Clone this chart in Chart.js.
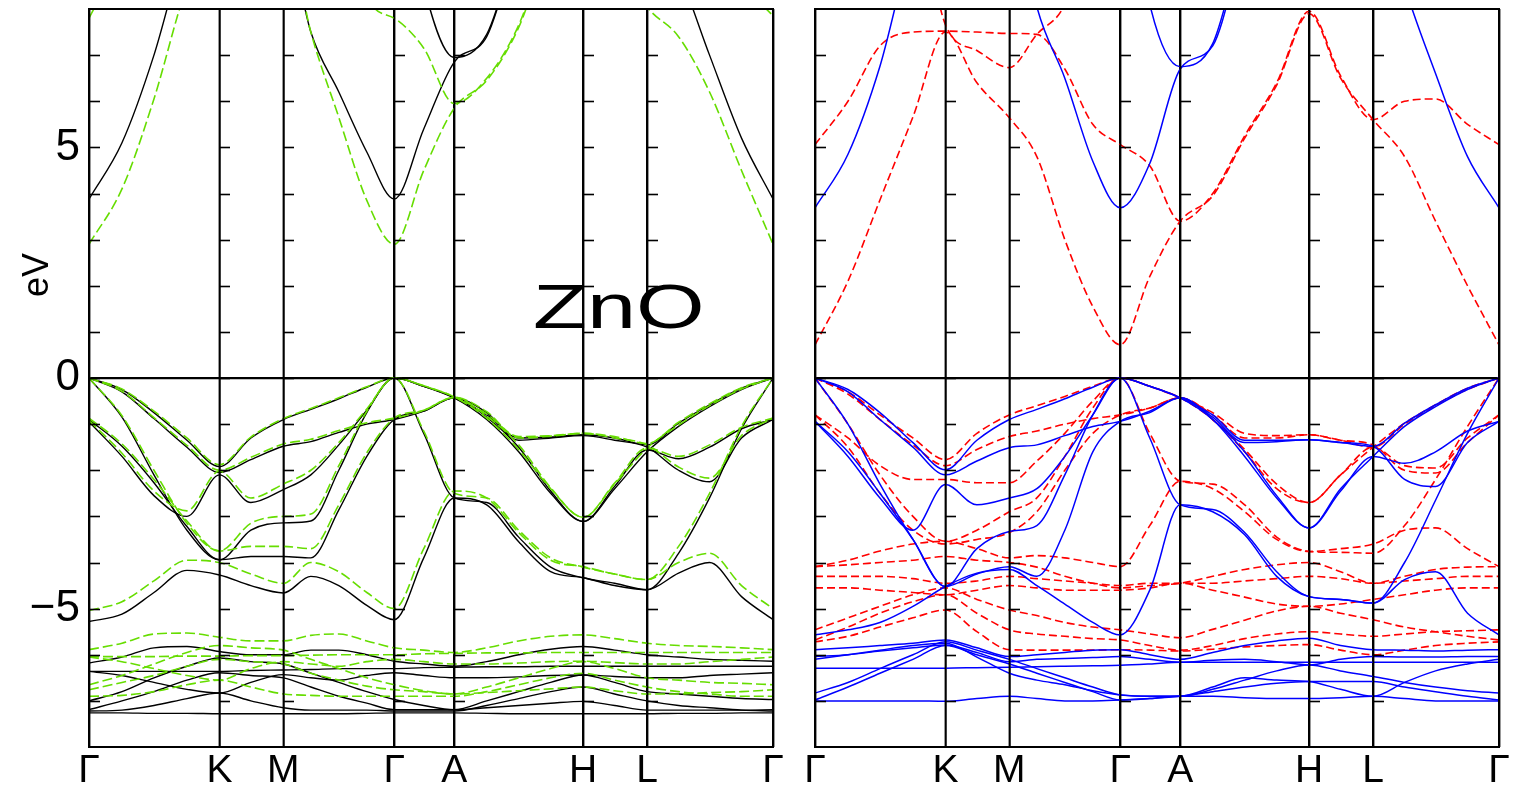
<!DOCTYPE html>
<html><head><meta charset="utf-8">
<script src="https://cdn.jsdelivr.net/npm/chart.js@4.4.0/dist/chart.umd.min.js"></script>
<style>
html,body{margin:0;padding:0;background:#fff;width:1520px;height:789px;overflow:hidden}
canvas{position:absolute;top:0}
#c1{left:0}
#c2{left:795px}
</style></head><body>
<canvas id="c1" width="795" height="789"></canvas>
<canvas id="c2" width="725" height="789"></canvas>
<script>
// k-path sample positions (path length units) and high-symmetry points
const K_POS = [0,33,65,98,130.5,162,194.5,222,250,278,305.5,335,365.5,398,430,462,494.5,526,558.5,590,621,653,684.5];
const HS_POS = [0,130.5,194.5,305.5,365.5,494.5,558.5,684.5];
const HS_LABELS = ['Γ','K','M','Γ','A','H','L','Γ'];
const Y_LABELS = {5:'5',0:'0','-5':'−5'};

// ---------- left panel: black (solid) ----------
const BK_C1 = [3.88,5.1,7.0,9.5,11, 10.5,10, 7.5,6.2,4.9,3.88, 5.4,6.85, 7.4,9.5,11,12, 11,10, 8.8,7.0,5.2,3.88];
const BK_C2 = [12,12,12,12,12, 12,12, 12,12,12,12, 8.5,6.95, 7.45,9.5,11,12, 12,12, 12,12,12,12];
const BK_V1 = [0,-0.25,-0.75,-1.35,-1.92, -1.3,-0.9, -0.68,-0.45,-0.2,0, -0.18,-0.43, -0.8,-1.3,-1.28,-1.23, -1.3,-1.45, -0.98,-0.58,-0.22,0];
const BK_V2 = [0,-0.3,-0.88,-1.5,-2.05, -1.77,-1.48, -1.38,-1.18,-1.0,-0.9, -0.72,-0.43, -0.85,-1.5,-2.45,-3.11, -2.35,-1.56, -1.75,-1.5,-1.1,-0.9];
const BK_V3 = [0,-0.85,-2.1,-3.3,-3.94, -3.3,-3.14, -3.1,-2.0,-0.75,0, -1.2,-2.6, -2.7,-3.45,-4.1,-4.33, -4.45,-4.59, -3.8,-2.6,-1.1,0];
const BK_V4 = [-0.9,-1.48,-2.27,-3.22,-3.94, -3.87,-3.87, -3.9,-2.86,-1.7,-0.9, -0.72,-0.43, -0.75,-1.35,-1.3,-1.25, -1.35,-1.5, -2.0,-2.25,-1.3,-0.9];
const BK_V5 = [-0.95,-1.7,-2.55,-3.0,-2.1, -2.7,-2.42, -2.1,-1.45,-0.7,0, -0.18,-0.43, -0.9,-1.6,-2.5,-3.11, -2.4,-1.6, -1.05,-0.62,-0.25,0];
const BK_V6 = [-5.28,-5.12,-4.65,-4.17,-4.27, -4.5,-4.66, -4.3,-4.5,-4.93,-5.24, -3.9,-2.6, -2.75,-3.55,-4.2,-4.33, -4.5,-4.59, -4.23,-4.0,-4.74,-5.24];
const BK_D1 = [-6.18,-6.05,-5.85,-5.82,-5.93, -6.0,-6.0, -5.9,-5.9,-6.0,-6.14, -6.2,-6.25, -6.15,-6.0,-5.88,-5.82, -5.9,-6.0, -6.05,-6.1,-6.12,-6.14];
const BK_D2 = [-6.36,-6.36,-6.36,-6.36,-6.36, -6.34,-6.33, -6.32,-6.3,-6.3,-6.3, -6.28,-6.27, -6.26,-6.26,-6.25,-6.25, -6.25,-6.25, -6.25,-6.25,-6.25,-6.25];
const BK_D3 = [-6.36,-6.45,-6.6,-6.75,-6.83, -6.6,-6.43, -6.5,-6.55,-6.45,-6.39, -6.45,-6.5, -6.5,-6.48,-6.45,-6.44, -6.47,-6.5, -6.5,-6.45,-6.42,-6.39];
const BK_D4 = [-7.0,-6.8,-6.5,-6.25,-6.07, -6.15,-6.2, -6.4,-6.6,-6.8,-6.97, -7.1,-7.19, -7.0,-6.8,-6.6,-6.44, -6.6,-6.8, -6.85,-6.9,-6.95,-6.97];
const BK_D5 = [-7.19,-7.0,-6.8,-6.55,-6.39, -6.45,-6.5, -6.7,-6.9,-7.05,-7.19, -7.19,-7.19, -7.15,-7.1,-7.05,-7.01, -7.1,-7.2, -7.2,-7.2,-7.2,-7.19];
const BK_D6 = [-7.22,-7.2,-7.1,-6.95,-6.83, -7.0,-7.15, -7.2,-7.2,-7.2,-7.22, -7.22,-7.22, -7.1,-6.95,-6.8,-6.7, -6.85,-7.0, -7.1,-7.15,-7.2,-7.22];
const BK_D7 = [-7.26,-7.26,-7.27,-7.27,-7.28, -7.28,-7.28, -7.28,-7.28,-7.27,-7.26, -7.26,-7.26, -7.27,-7.28,-7.28,-7.28, -7.28,-7.28, -7.27,-7.27,-7.26,-7.26];

// ---------- left panel: green (dashed) ----------
const GR_C1 = [2.9,4.1,6.05,8.5,10, 10,10, 7.5,5.65,3.85,2.9, 4.5,5.85, 6.45,7.6,9.5,10.5, 9.3,8.05, 7.4,6.2,4.5,2.9];
const GR_C2 = [7.8,9.2,11,12,12, 12,12, 12,12,8.3,7.8, 7.15,5.95, 6.5,7.65,9.6,11, 12,12, 12,10,8.6,7.85];
const GR_V1 = [0,-0.24,-0.72,-1.3,-1.88, -1.28,-0.88, -0.66,-0.43,-0.19,0, -0.17,-0.41, -0.78,-1.27,-1.25,-1.2, -1.27,-1.42, -0.96,-0.56,-0.21,0];
const GR_V2 = [0,-0.29,-0.86,-1.46,-2.0, -1.72,-1.43, -1.33,-1.14,-0.97,-0.87, -0.7,-0.42, -0.83,-1.45,-2.38,-3.02, -2.28,-1.52, -1.7,-1.45,-1.07,-0.87];
const GR_V3 = [0,-0.82,-2.0,-3.15,-3.75, -3.15,-3.0, -2.95,-1.9,-0.72,0, -1.15,-2.5, -2.6,-3.3,-3.9,-4.1, -4.25,-4.37, -3.65,-2.5,-1.05,0];
const GR_V4 = [-0.87,-1.43,-2.2,-3.1,-3.75, -3.65,-3.65, -3.7,-2.75,-1.62,-0.87, -0.7,-0.42, -0.73,-1.3,-1.26,-1.2, -1.3,-1.45, -1.93,-2.17,-1.25,-0.87];
const GR_V5 = [-0.92,-1.63,-2.45,-2.88,-2.02, -2.6,-2.3, -2.0,-1.4,-0.67,0, -0.17,-0.41, -0.87,-1.55,-2.4,-3.02, -2.3,-1.52, -1.02,-0.6,-0.24,0];
const GR_V6 = [-5.04,-4.85,-4.4,-3.95,-4.0, -4.25,-4.45, -4.0,-4.2,-4.65,-5.0, -3.7,-2.45, -2.6,-3.35,-3.95,-4.09, -4.25,-4.37, -4.0,-3.8,-4.5,-5.0];
const GR_D1 = [-5.89,-5.75,-5.55,-5.53,-5.62, -5.7,-5.7, -5.58,-5.55,-5.7,-5.85, -5.9,-5.95, -5.85,-5.7,-5.6,-5.57, -5.65,-5.75, -5.8,-5.82,-5.85,-5.89];
const GR_D2 = [-6.04,-6.04,-6.04,-6.03,-6.03, -6.02,-6.02, -6.01,-6.0,-6.0,-6.0, -5.98,-5.97, -5.96,-5.96,-5.95,-5.95, -5.95,-5.95, -5.95,-5.95,-5.95,-5.95];
const GR_D3 = [-6.05,-6.15,-6.3,-6.45,-6.55, -6.3,-6.15, -6.2,-6.25,-6.15,-6.1, -6.15,-6.2, -6.2,-6.18,-6.15,-6.14, -6.17,-6.2, -6.2,-6.15,-6.1,-6.05];
const GR_D4 = [-6.65,-6.45,-6.2,-5.95,-5.8, -5.85,-5.9, -6.1,-6.3,-6.5,-6.65, -6.78,-6.85, -6.7,-6.5,-6.3,-6.15, -6.3,-6.5, -6.55,-6.6,-6.62,-6.65];
const GR_D5 = [-6.76,-6.6,-6.45,-6.25,-6.1, -6.15,-6.2, -6.4,-6.55,-6.68,-6.76, -6.8,-6.85, -6.82,-6.78,-6.74,-6.7, -6.78,-6.85, -6.85,-6.82,-6.8,-6.76];
const GR_D6 = [-6.9,-6.88,-6.8,-6.65,-6.55, -6.7,-6.85, -6.88,-6.9,-6.9,-6.9, -6.9,-6.9, -6.8,-6.65,-6.5,-6.4, -6.55,-6.7, -6.8,-6.85,-6.9,-6.9];

// ---------- right panel: blue (solid) ----------
const BL_C1 = [3.69,4.85,6.76,9.5,11, 11,11, 8.05,6.5,4.7,3.69, 4.65,6.7, 7.2,9.5,11,12, 12,11, 8.5,6.6,4.8,3.69];
const BL_C2 = [12,12,12,12,12, 12,12, 12,12,12,12, 8.1,6.75, 7.25,9.6,11,12, 12,12, 12,12,12,12];
const BL_V1 = [0,-0.25,-0.75,-1.4,-1.99, -1.35,-0.9, -0.68,-0.45,-0.2,0, -0.18,-0.43, -0.8,-1.35,-1.35,-1.34, -1.4,-1.48, -0.98,-0.58,-0.22,0];
const BL_V2 = [0,-0.3,-0.9,-1.5,-2.1, -1.8,-1.51, -1.45,-1.25,-1.05,-0.94, -0.72,-0.43, -0.9,-1.6,-2.55,-3.25, -2.45,-1.7, -1.85,-1.6,-1.15,-0.94];
const BL_V3 = [0,-1.0,-2.3,-3.5,-4.52, -3.7,-3.33, -3.2,-2.1,-0.8,0, -1.3,-2.75, -2.85,-3.35,-4.2,-4.74, -4.8,-4.88, -4.0,-2.65,-1.2,0];
const BL_V4 = [-0.94,-1.6,-2.5,-3.5,-4.52, -4.25,-4.09, -4.3,-3.3,-1.6,-0.94, -0.75,-0.43, -0.85,-1.4,-1.38,-1.34, -1.4,-1.48, -2.2,-2.35,-1.4,-0.94];
const BL_V5 = [-0.94,-1.7,-2.6,-3.3,-2.31, -2.75,-2.6, -2.4,-1.7,-0.8,0, -0.18,-0.43, -0.9,-1.7,-2.6,-3.25, -2.4,-1.7, -1.05,-0.62,-0.25,0];
const BL_V6 = [-5.57,-5.46,-5.3,-4.95,-4.52, -4.23,-4.15, -4.5,-4.9,-5.3,-5.57, -4.6,-2.75, -2.9,-3.4,-4.3,-4.74, -4.8,-4.88, -4.37,-4.2,-5.1,-5.57];
const BL_D1 = [-5.89,-5.85,-5.8,-5.75,-5.68, -5.85,-6.04, -6.0,-5.95,-5.9,-5.89, -6.0,-6.1, -5.95,-5.8,-5.7,-5.64, -5.8,-5.89, -5.9,-5.92,-5.9,-5.89];
const BL_D2 = [-6.04,-6.0,-5.92,-5.85,-5.79, -5.95,-6.15, -6.1,-6.08,-6.06,-6.04, -6.1,-6.16, -6.12,-6.1,-6.15,-6.22, -6.1,-6.04, -6.05,-6.05,-6.04,-6.04];
const BL_D3 = [-6.29,-6.29,-6.29,-6.29,-6.29, -6.28,-6.27, -6.26,-6.25,-6.24,-6.23, -6.2,-6.16, -6.16,-6.16,-6.16,-6.16, -6.16,-6.16, -6.16,-6.16,-6.16,-6.16];
const BL_D4 = [-6.83,-6.6,-6.3,-6.0,-5.72, -5.9,-6.1, -6.3,-6.5,-6.7,-6.87, -6.9,-6.9, -6.75,-6.55,-6.35,-6.22, -6.35,-6.47, -6.6,-6.7,-6.78,-6.83];
const BL_D5 = [-6.98,-6.7,-6.4,-6.1,-5.8, -6.0,-6.2, -6.4,-6.6,-6.8,-6.98, -6.95,-6.9, -6.8,-6.7,-6.62,-6.58, -6.58,-6.58, -6.7,-6.8,-6.9,-6.98];
const BL_D6 = [-7.0,-7.0,-7.0,-7.0,-7.01, -6.95,-6.9, -6.95,-7.0,-7.0,-6.98, -6.95,-6.9, -6.9,-6.93,-6.95,-6.95, -6.93,-6.9, -6.95,-7.0,-7.0,-7.0];
const BL_D7 = [-6.1,-6.0,-5.9,-5.8,-5.75, -6.05,-6.4, -6.55,-6.65,-6.78,-6.87, -6.9,-6.9, -6.7,-6.5,-6.55,-6.58, -6.75,-6.9, -6.6,-6.35,-6.2,-6.1];

// ---------- right panel: red (dashed) ----------
const RD_C1 = [0.72,2.1,3.86,5.66,7.5, 6.4,5.64, 4.8,3.0,1.55,0.72, 2.2,3.4, 3.95,5.2,6.35,7.9, 6.5,5.6, 4.8,3.4,2.0,0.72];
const RD_C2 = [5.06,6.0,7.2,7.5,7.52, 7.5,7.47, 7.45,6.7,5.5,5.06, 4.6,3.4, 4.0,5.25,6.4,7.95, 6.55,5.6, 6.0,6.05,5.5,5.06];
const RD_C3 = [12,12,12,11,7.66, 7.1,6.73, 7.45,8.1,10,11, 12,12, 12,12,12,12, 12,12, 12,12,12,12];
const RD_V1 = [0,-0.3,-0.8,-1.3,-1.77, -1.2,-0.8, -0.6,-0.4,-0.18,0, -0.18,-0.43, -0.75,-1.2,-1.25,-1.23, -1.35,-1.5, -1.0,-0.6,-0.25,0];
const RD_V2 = [0,-0.35,-0.9,-1.45,-1.9, -1.55,-1.27, -1.15,-1.0,-0.88,-0.8, -0.65,-0.43, -0.9,-1.55,-2.3,-2.7, -2.1,-1.5, -1.9,-1.95,-1.3,-0.8];
const RD_V3 = [0,-1.0,-2.1,-3.0,-3.54, -3.3,-2.9, -2.6,-1.7,-0.65,0, -1.2,-2.24, -2.3,-2.75,-3.45,-3.76, -3.78,-3.8, -3.2,-2.2,-1.05,0];
const RD_V4 = [-0.8,-1.5,-2.5,-3.3,-3.6, -3.5,-3.35, -2.9,-2.0,-1.2,-0.8, -0.65,-0.43, -0.8,-1.3,-1.3,-1.23, -1.35,-1.45, -2.0,-2.06,-1.4,-0.8];
const RD_V5 = [-0.8,-1.3,-1.9,-2.2,-2.2, -2.27,-2.27, -1.8,-1.2,-0.5,0, -0.18,-0.43, -0.9,-1.6,-2.4,-2.7, -2.1,-1.5, -0.98,-0.58,-0.22,0];
const RD_V6 = [-4.09,-3.95,-3.75,-3.6,-3.54, -3.7,-3.9, -3.85,-3.9,-4.0,-4.09, -3.2,-2.24, -2.4,-2.9,-3.5,-3.76, -3.7,-3.6, -3.3,-3.25,-3.7,-4.09];
const RD_D1 = [-4.09,-4.05,-4.0,-3.95,-3.87, -3.95,-4.0, -4.1,-4.3,-4.45,-4.55, -4.5,-4.45, -4.3,-4.15,-4.05,-4.0, -4.2,-4.45, -4.3,-4.15,-4.1,-4.09];
const RD_D2 = [-4.3,-4.3,-4.3,-4.35,-4.45, -4.4,-4.3, -4.35,-4.4,-4.45,-4.5, -4.45,-4.45, -4.45,-4.4,-4.35,-4.3, -4.35,-4.45, -4.4,-4.35,-4.3,-4.3];
const RD_D3 = [-4.55,-4.55,-4.6,-4.65,-4.7, -4.6,-4.5, -4.55,-4.6,-4.6,-4.6, -4.55,-4.45, -4.6,-4.75,-4.9,-4.95, -4.9,-4.8, -4.7,-4.6,-4.55,-4.55];
const RD_D4 = [-5.46,-5.2,-4.95,-4.7,-4.55, -4.8,-5.03, -5.15,-5.3,-5.4,-5.46, -5.55,-5.63, -5.45,-5.25,-5.05,-4.95, -5.1,-5.24, -5.4,-5.5,-5.6,-5.68];
const RD_D5 = [-5.68,-5.4,-5.1,-4.85,-4.7, -5.1,-5.46, -5.55,-5.6,-5.65,-5.68, -5.8,-5.9, -5.8,-5.65,-5.55,-5.5, -5.55,-5.6, -5.55,-5.5,-5.48,-5.46];
const RD_D6 = [-5.72,-5.6,-5.4,-5.2,-5.03, -5.5,-5.89, -5.9,-5.9,-5.9,-5.89, -5.9,-5.92, -5.88,-5.83,-5.8,-5.78, -5.9,-6.0, -5.9,-5.8,-5.75,-5.72];

const LEFT_SOLID = [BK_C1,BK_C2,BK_V1,BK_V2,BK_V3,BK_V4,BK_V5,BK_V6,BK_D1,BK_D2,BK_D3,BK_D4,BK_D5,BK_D6,BK_D7];
const LEFT_DASH  = [GR_C1,GR_C2,GR_V1,GR_V2,GR_V3,GR_V4,GR_V5,GR_V6,GR_D1,GR_D2,GR_D3,GR_D4,GR_D5,GR_D6];
const RIGHT_SOLID = [BL_C1,BL_C2,BL_V1,BL_V2,BL_V3,BL_V4,BL_V5,BL_V6,BL_D1,BL_D2,BL_D3,BL_D4,BL_D5,BL_D6,BL_D7];
const RIGHT_DASH  = [RD_C1,RD_C2,RD_C3,RD_V1,RD_V2,RD_V3,RD_V4,RD_V5,RD_V6,RD_D1,RD_D2,RD_D3,RD_D4,RD_D5,RD_D6];

const FONT = "'Liberation Sans', Arial, Helvetica, sans-serif";

function bandData(arr){ return K_POS.map((k,i)=>({x:k,y:arr[i]})); }
function mkSet(arr,color,width,dash,label){
  return {label:label,data:bandData(arr),borderColor:color,backgroundColor:color,borderWidth:width,
    borderDash:dash||[],pointRadius:0,pointHoverRadius:0,fill:false,cubicInterpolationMode:'monotone'};
}

const framePlugin = {
  id:'frame',
  afterDatasetsDraw(chart){
    const {ctx, chartArea:a, scales:{x,y}} = chart;
    ctx.save();
    ctx.strokeStyle='#000';
    ctx.lineWidth=1.8;
    HS_POS.forEach(p=>{
      const px = Math.round(x.getPixelForValue(p))+0.5;
      ctx.beginPath(); ctx.moveTo(px,a.top); ctx.lineTo(px,a.bottom); ctx.stroke();
    });
    ctx.lineWidth=1.6;
    HS_POS.slice(0,-1).forEach(p=>{
      const px = Math.round(x.getPixelForValue(p));
      for(let e=-7;e<=7;e++){
        const py = Math.round(y.getPixelForValue(e))+0.5;
        ctx.beginPath(); ctx.moveTo(px,py); ctx.lineTo(px+11,py); ctx.stroke();
      }
    });
    const p0 = Math.round(y.getPixelForValue(0))+0.5;
    ctx.lineWidth=1.5;
    ctx.beginPath(); ctx.moveTo(a.left,p0); ctx.lineTo(a.right,p0); ctx.stroke();
    ctx.lineWidth=2;
    ctx.strokeRect(a.left,a.top,a.right-a.left,a.bottom-a.top);
    ctx.restore();
  }
};

const textPlugin = {
  id:'texts',
  afterDraw(chart){
    const ctx = chart.ctx;
    ctx.save();
    ctx.fillStyle='#000';
    ctx.font = '63px '+FONT;
    ctx.textBaseline='alphabetic';
    ctx.translate(533,328);
    ctx.scale(1.4,1);
    ctx.fillText('ZnO',0,0);
    ctx.restore();
    ctx.save();
    ctx.fillStyle='#000';
    ctx.font = '36px '+FONT;
    ctx.translate(38,275);
    ctx.rotate(-Math.PI/2);
    ctx.textAlign='center'; ctx.textBaseline='middle';
    ctx.fillText('eV',0,0);
    ctx.restore();
  }
};

function makeOptions(showY, yWidth, padRight){
  return {
    responsive:false, animation:false, devicePixelRatio:1,
    layout:{padding:{left:0,right:padRight,top:9,bottom:0},autoPadding:false},
    plugins:{legend:{display:false},tooltip:{enabled:false}},
    scales:{
      x:{type:'linear',min:0,max:684.5,position:'bottom',
        afterFit:s=>{s.height=42; s.paddingLeft=0; s.paddingRight=0;},
        afterBuildTicks:s=>{s.ticks=HS_POS.map(v=>({value:v}));},
        ticks:{autoSkip:false,maxRotation:0,padding:1,color:'#000',font:{family:FONT,size:39},
          callback:(v,i)=>HS_LABELS[i]},
        grid:{color:'#000',lineWidth:1.6,drawTicks:false},
        border:{display:true,color:'#000',width:2}
      },
      y:{type:'linear',min:-8,max:8,position:'left',
        afterFit:s=>{s.width=yWidth; s.paddingTop=0; s.paddingBottom=0;},
        ticks:{stepSize:1,autoSkip:false,padding:9,color:'#000',font:{family:FONT,size:44},
          callback:v=>{ if(v===0) return showY?'0':''; if(showY && Y_LABELS[v]!==undefined) return Y_LABELS[v]; return null; }},
        grid:{drawTicks:false,lineWidth:1.5,color:c=>(c.tick && c.tick.value===0)?'#000':'rgba(0,0,0,0)'},
        border:{display:true,color:'#000',width:2}
      }
    }
  };
}

const leftSets = [].concat(
  LEFT_DASH.map((a,i)=>mkSet(a,'#66dd00',1.6,[10,4],'green '+i)),
  LEFT_SOLID.map((a,i)=>mkSet(a,'#000000',1.4,[],'black '+i))
);
const rightSets = [].concat(
  RIGHT_SOLID.map((a,i)=>mkSet(a,'#0000ff',1.5,[],'blue '+i)),
  RIGHT_DASH.map((a,i)=>mkSet(a,'#ff0000',1.6,[8,4],'red '+i))
);

new Chart(document.getElementById('c1'),{type:'line',data:{datasets:leftSets},
  options:makeOptions(true,89,22),plugins:[framePlugin,textPlugin]});
new Chart(document.getElementById('c2'),{type:'line',data:{datasets:rightSets},
  options:makeOptions(false,20,21),plugins:[framePlugin]});
</script></body></html>
